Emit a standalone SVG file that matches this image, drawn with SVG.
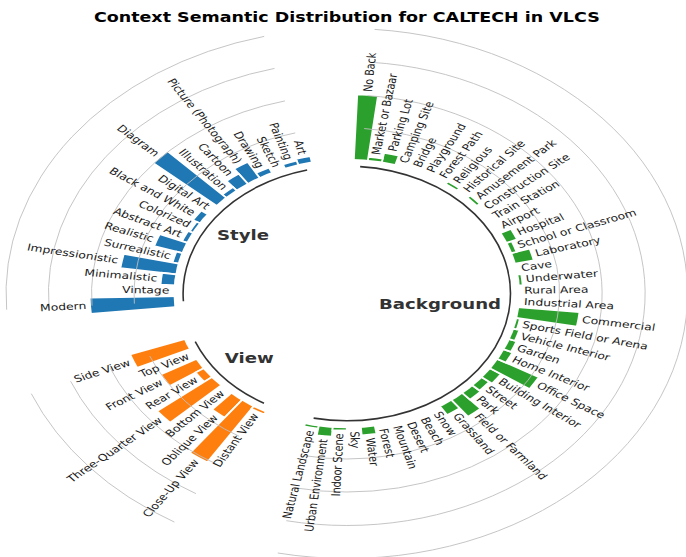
<svg xmlns="http://www.w3.org/2000/svg" xmlns:xlink="http://www.w3.org/1999/xlink" width="686" height="557" viewBox="0 0 686 557">
<style>
  .title{font-family:"DejaVu Sans",sans-serif;font-weight:bold;font-size:13.6px;fill:#000;text-anchor:middle}
  .lbl{font-family:"DejaVu Sans",sans-serif;font-size:9.6px;fill:#1a1a1a;dominant-baseline:central}
  .s{text-anchor:start}
  .e{text-anchor:end}
  .grp{font-family:"DejaVu Sans",sans-serif;font-weight:bold;font-size:14.1px;fill:#333;text-anchor:middle}
  .grid{fill:none;stroke:#bebebe;stroke-width:0.9;vector-effect:non-scaling-stroke}
  .spine{fill:none;stroke:#333;stroke-width:1.6;vector-effect:non-scaling-stroke}
  .st{fill:#1f77b4;stroke:#fff;stroke-width:1.8}
  .vw{fill:#ff7f0e;stroke:#fff;stroke-width:1.8}
  .bg{fill:#2ca02c;stroke:#fff;stroke-width:1.8}
</style>
<defs>
  <!-- unit wedge, one slot wide (360/77 deg), centred on angle 0 -->
  <path id="w" vector-effect="non-scaling-stroke" d="M0 0L.999168-.040789A1 1 0 0 1 .999168.040789Z"/>
</defs>
<rect width="686" height="557" fill="#fff"/>
<!-- polar frame: origin at chart centre, horizontal stretch of the raster -->
<g transform="translate(346.8 293.5) scale(1.286 1)">
  <text class="title" x="0" y="-271.2">Context Semantic Distribution for CALTECH in VLCS</text>

  <!-- bars (drawn from centre, inner part hidden by the white hub) -->
  <g id="style-bars" class="st">
    <use xlink:href="#w" transform="rotate(-104.026) scale(140.4)"/>
    <use xlink:href="#w" transform="rotate(-108.701) scale(138.4)"/>
    <use xlink:href="#w" transform="rotate(-118.052) scale(139.7)"/>
    <use xlink:href="#w" transform="rotate(-122.727) scale(152.4)"/>
    <use xlink:href="#w" transform="rotate(-127.403) scale(146.4)"/>
    <use xlink:href="#w" transform="rotate(-132.078) scale(138.4)"/>
    <use xlink:href="#w" transform="rotate(-136.753) scale(199.3)"/>
    <use xlink:href="#w" transform="rotate(-146.104) scale(140.4)"/>
    <use xlink:href="#w" transform="rotate(-150.779) scale(137.0)"/>
    <use xlink:href="#w" transform="rotate(-155.455) scale(138.4)"/>
    <use xlink:href="#w" transform="rotate(-160.130) scale(157.1)"/>
    <use xlink:href="#w" transform="rotate(-164.805) scale(139.0)"/>
    <use xlink:href="#w" transform="rotate(-169.481) scale(177.9)"/>
    <use xlink:href="#w" transform="rotate(-174.156) scale(145.1)"/>
    <use xlink:href="#w" transform="rotate(-183.506) scale(200.0)"/>
  </g>
  <g id="view-bars" class="vw">
    <use xlink:href="#w" transform="rotate(-202.208) scale(179.2)"/>
    <use xlink:href="#w" transform="rotate(-211.558) scale(165.8)"/>
    <use xlink:href="#w" transform="rotate(-216.234) scale(141.7)"/>
    <use xlink:href="#w" transform="rotate(-220.909) scale(188.6)"/>
    <use xlink:href="#w" transform="rotate(-230.260) scale(156.4)"/>
    <use xlink:href="#w" transform="rotate(-234.935) scale(200.7)"/>
    <use xlink:href="#w" transform="rotate(-239.610) scale(137.0)"/>
  </g>
  <g id="background-bars" class="bg">
    <use xlink:href="#w" transform="rotate(-258.312) scale(137.0)"/>
    <use xlink:href="#w" transform="rotate(-262.987) scale(143.7)"/>
    <use xlink:href="#w" transform="rotate(-267.662) scale(137.0)"/>
    <use xlink:href="#w" transform="rotate(-277.013) scale(142.4)"/>
    <use xlink:href="#w" transform="rotate(-305.065) scale(144.4)"/>
    <use xlink:href="#w" transform="rotate(-309.740) scale(155.1)"/>
    <use xlink:href="#w" transform="rotate(-314.416) scale(143.0)"/>
    <use xlink:href="#w" transform="rotate(-319.091) scale(141.7)"/>
    <use xlink:href="#w" transform="rotate(-323.766) scale(144.4)"/>
    <use xlink:href="#w" transform="rotate(-328.442) scale(171.2)"/>
    <use xlink:href="#w" transform="rotate(-333.117) scale(141.7)"/>
    <use xlink:href="#w" transform="rotate(-337.792) scale(140.4)"/>
    <use xlink:href="#w" transform="rotate(-342.468) scale(139.0)"/>
    <use xlink:href="#w" transform="rotate(-347.143) scale(137.0)"/>
    <use xlink:href="#w" transform="rotate(-351.818) scale(181.9)"/>
    <use xlink:href="#w" transform="rotate(-5.844) scale(137.0)"/>
    <use xlink:href="#w" transform="rotate(-15.195) scale(149.1)"/>
    <use xlink:href="#w" transform="rotate(-19.870) scale(138.4)"/>
    <use xlink:href="#w" transform="rotate(-24.545) scale(143.0)"/>
    <use xlink:href="#w" transform="rotate(-43.247) scale(137.0)"/>
    <use xlink:href="#w" transform="rotate(-52.597) scale(137.0)"/>
    <use xlink:href="#w" transform="rotate(-75.974) scale(143.7)"/>
    <use xlink:href="#w" transform="rotate(-80.649) scale(137.7)"/>
    <use xlink:href="#w" transform="rotate(-85.325) scale(199.3)"/>
  </g>

  <!-- hub hides the inner part of the wedges -->
  <circle r="134.8" fill="#fff"/>

  <!-- reference rings and group baselines -->
  <g id="style-rings">
    <path class="grid" d="M-165.19 10.12A165.5 165.5 0 0 1 -40.11-160.57"/>
    <path class="grid" d="M-198.13 12.14A198.5 198.5 0 0 1 -48.11-192.58"/>
    <path class="grid" d="M-231.57 14.19A232 232 0 0 1 -56.23-225.08"/>
    <path class="grid" d="M-264.50 16.20A265 265 0 0 1 -64.23-257.10"/>
    <path class="spine" d="M-127.06 7.78A127.3 127.3 0 0 1 -30.85-123.50"/>
  </g>
  <g id="view-rings">
    <path class="grid" d="M-83.72 142.76A165.5 165.5 0 0 1 -153.22 62.55"/>
    <path class="grid" d="M-100.42 171.23A198.5 198.5 0 0 1 -183.78 75.03"/>
    <path class="grid" d="M-117.36 200.12A232 232 0 0 1 -214.79 87.69"/>
    <path class="grid" d="M-134.06 228.59A265 265 0 0 1 -245.34 100.16"/>
    <path class="spine" d="M-64.40 109.81A127.3 127.3 0 0 1 -117.86 48.12"/>
  </g>
  <g id="background-rings">
    <path class="grid" d="M13.49-164.95A165.5 165.5 0 1 1 -33.53 162.07"/>
    <path class="grid" d="M16.18-197.84A198.5 198.5 0 1 1 -40.21 194.38"/>
    <path class="grid" d="M18.91-231.23A232 232 0 1 1 -47.00 227.19"/>
    <path class="grid" d="M21.60-264.12A265 265 0 1 1 -53.68 259.51"/>
    <path class="spine" d="M10.38-126.88A127.3 127.3 0 1 1 -25.79 124.66"/>
  </g>

  <!-- category labels -->
  <g id="style-labels" class="lbl e">
    <text transform="rotate(-104.026) translate(143.4) rotate(180)">Art</text>
    <text transform="rotate(-108.701) translate(141.4) rotate(180)">Painting</text>
    <text transform="rotate(-113.377) translate(138.0) rotate(180)">Sketch</text>
    <text transform="rotate(-118.052) translate(142.7) rotate(180)">Drawing</text>
    <text transform="rotate(-122.727) translate(155.4) rotate(180)">Picture (Photograph)</text>
    <text transform="rotate(-127.403) translate(149.4) rotate(180)">Cartoon</text>
    <text transform="rotate(-132.078) translate(141.4) rotate(180)">Illustration</text>
    <text transform="rotate(-136.753) translate(202.3) rotate(180)">Diagram</text>
    <text transform="rotate(-141.429) translate(138.0) rotate(180)">Digital Art</text>
    <text transform="rotate(-146.104) translate(143.4) rotate(180)">Black and White</text>
    <text transform="rotate(-150.779) translate(140.0) rotate(180)">Colorized</text>
    <text transform="rotate(-155.455) translate(141.4) rotate(180)">Abstract Art</text>
    <text transform="rotate(-160.130) translate(160.1) rotate(180)">Realistic</text>
    <text transform="rotate(-164.805) translate(142.0) rotate(180)">Surrealistic</text>
    <text transform="rotate(-169.481) translate(180.9) rotate(180)">Impressionistic</text>
    <text transform="rotate(-174.156) translate(148.1) rotate(180)">Minimalistic</text>
    <text transform="rotate(-178.831) translate(138.0) rotate(180)">Vintage</text>
    <text transform="rotate(-183.506) translate(203.0) rotate(180)">Modern</text>
  </g>
  <g id="view-labels" class="lbl e">
    <text transform="rotate(-202.208) translate(182.2) rotate(180)">Side View</text>
    <text transform="rotate(-206.883) translate(138.0) rotate(180)">Top View</text>
    <text transform="rotate(-211.558) translate(168.8) rotate(180)">Front View</text>
    <text transform="rotate(-216.234) translate(144.7) rotate(180)">Rear View</text>
    <text transform="rotate(-220.909) translate(191.6) rotate(180)">Three-Quarter View</text>
    <text transform="rotate(-225.584) translate(138.0) rotate(180)">Bottom View</text>
    <text transform="rotate(-230.260) translate(159.5) rotate(180)">Oblique View</text>
    <text transform="rotate(-234.935) translate(203.7) rotate(180)">Close-Up View</text>
    <text transform="rotate(-239.610) translate(140.0) rotate(180)">Distant View</text>
  </g>
  <g id="background-labels" class="lbl">
    <text class="e" transform="rotate(-258.312) translate(140.0) rotate(180)">Natural Landscape</text>
    <text class="e" transform="rotate(-262.987) translate(146.7) rotate(180)">Urban Environment</text>
    <text class="e" transform="rotate(-267.662) translate(140.0) rotate(180)">Indoor Scene</text>
    <text class="s" transform="rotate(87.662) translate(138.0)">Sky</text>
    <text class="s" transform="rotate(82.987) translate(145.4)">Water</text>
    <text class="s" transform="rotate(78.312) translate(138.0)">Forest</text>
    <text class="s" transform="rotate(73.636) translate(138.0)">Mountain</text>
    <text class="s" transform="rotate(68.961) translate(138.0)">Desert</text>
    <text class="s" transform="rotate(64.286) translate(138.0)">Beach</text>
    <text class="s" transform="rotate(59.610) translate(138.0)">Snow</text>
    <text class="s" transform="rotate(54.935) translate(147.4)">Grassland</text>
    <text class="s" transform="rotate(50.260) translate(158.1)">Field or Farmland</text>
    <text class="s" transform="rotate(45.584) translate(146.1)">Park</text>
    <text class="s" transform="rotate(40.909) translate(144.7)">Street</text>
    <text class="s" transform="rotate(36.234) translate(147.4)">Building Interior</text>
    <text class="s" transform="rotate(31.558) translate(174.2)">Office Space</text>
    <text class="s" transform="rotate(26.883) translate(144.7)">Home Interior</text>
    <text class="s" transform="rotate(22.208) translate(143.4)">Garden</text>
    <text class="s" transform="rotate(17.532) translate(142.0)">Vehicle Interior</text>
    <text class="s" transform="rotate(12.857) translate(140.0)">Sports Field or Arena</text>
    <text class="s" transform="rotate(8.182) translate(184.9)">Commercial</text>
    <text class="s" transform="rotate(3.506) translate(138.0)">Industrial Area</text>
    <text class="s" transform="rotate(-1.169) translate(138.0)">Rural Area</text>
    <text class="s" transform="rotate(-5.844) translate(140.0)">Underwater</text>
    <text class="s" transform="rotate(-10.519) translate(138.0)">Cave</text>
    <text class="s" transform="rotate(-15.195) translate(152.1)">Laboratory</text>
    <text class="s" transform="rotate(-19.870) translate(141.4)">School or Classroom</text>
    <text class="s" transform="rotate(-24.545) translate(146.1)">Hospital</text>
    <text class="s" transform="rotate(-29.221) translate(138.0)">Airport</text>
    <text class="s" transform="rotate(-33.896) translate(138.0)">Train Station</text>
    <text class="s" transform="rotate(-38.571) translate(138.0)">Construction Site</text>
    <text class="s" transform="rotate(-43.247) translate(140.0)">Amusement Park</text>
    <text class="s" transform="rotate(-47.922) translate(138.0)">Historical Site</text>
    <text class="s" transform="rotate(-52.597) translate(140.0)">Religious</text>
    <text class="s" transform="rotate(-57.273) translate(138.0)">Forest Path</text>
    <text class="s" transform="rotate(-61.948) translate(138.0)">Playground</text>
    <text class="s" transform="rotate(-66.623) translate(138.0)">Bridge</text>
    <text class="s" transform="rotate(-71.299) translate(138.0)">Camping Site</text>
    <text class="s" transform="rotate(-75.974) translate(146.7)">Parking Lot</text>
    <text class="s" transform="rotate(-80.649) translate(140.7)">Market or Bazaar</text>
    <text class="s" transform="rotate(-85.325) translate(202.3)">No Back</text>
  </g>

  <!-- group names -->
  <g id="group-names">
    <text class="grp" x="-80.7" y="-53.5">Style</text>
    <text class="grp" x="-75.9" y="69.8">View</text>
    <text class="grp" x="72.5" y="15.8">Background</text>
  </g>
</g>
</svg>
